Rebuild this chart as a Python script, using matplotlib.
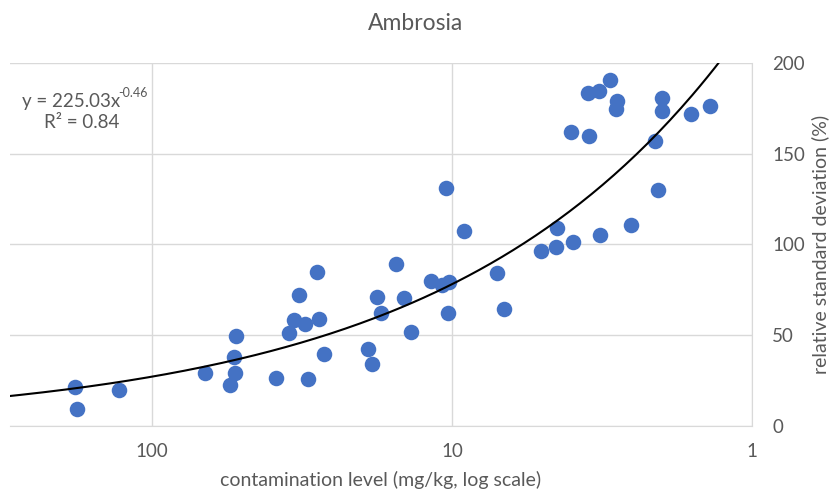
import numpy as np
import matplotlib
matplotlib.use('Agg')
import matplotlib.pyplot as plt

plt.rcParams['font.family'] = ['Lato', 'DejaVu Sans']

# contamination level (mg/kg) and relative standard deviation (%)
level = [181, 178.8, 129.1, 66.6, 55.1, 53.0, 53.3, 52.6, 38.6, 35.1,
         33.7, 32.5, 30.9, 30.3, 28.3, 27.8, 26.8, 19.05, 18.5, 17.8,
         17.2, 15.4, 14.45, 13.7, 11.8, 10.77, 10.23, 10.47, 10.31, 9.14,
         7.10, 6.74, 5.04, 4.51, 4.47, 3.94, 4.0, 3.49, 3.52, 3.25,
         2.97, 2.82, 2.84, 3.21, 2.54, 2.06, 2.10, 2.0, 1.99, 1.60, 1.38]
rsd = [21.6, 9.2, 19.7, 29.0, 22.5, 29.3, 37.6, 49.2, 26.2, 51.1,
       58.5, 71.9, 56.1, 25.7, 84.6, 58.8, 39.7, 42.3, 34.1, 70.8,
       62.2, 89.0, 70.5, 51.7, 80.0, 77.8, 79.3, 130.8, 62.3, 107.3,
       84.1, 64.2, 96.5, 98.5, 109.2, 101.2, 161.7, 159.5, 183.6, 184.4,
       190.5, 178.7, 174.4, 105.3, 110.5, 130.0, 156.9, 180.5, 173.3, 172.0, 176.3]

# power trendline shown on the chart
coef_a = 225.03
coef_b = -0.46

gray = '#595959'
fig = plt.figure(figsize=(8.31, 4.91), dpi=100)
ax = fig.add_axes([0.012, 0.133, 0.893, 0.739])

ax.scatter(level, rsd, s=125, color='#4472C4', zorder=3, linewidths=0)
xs = np.logspace(np.log10(1.0), np.log10(300), 200)
ax.plot(xs, coef_a * xs ** coef_b, color='black', lw=1.5, zorder=4)

ax.set_xscale('log')
ax.set_xlim(298, 1)
ax.set_ylim(0, 200)
ax.set_xticks([100, 10, 1])
ax.set_xticklabels(['100', '10', '1'])
ax.minorticks_off()
ax.set_yticks([0, 50, 100, 150, 200])
ax.yaxis.tick_right()
ax.yaxis.set_label_position('right')
ax.tick_params(length=0, labelsize=13.5, colors=gray, pad=12.5)
ax.tick_params(axis='y', pad=14.5)
ax.grid(True, color='#d9d9d9', lw=1)
ax.set_axisbelow(True)
for s in ['top', 'left']:
    ax.spines[s].set_visible(False)
for s in ['bottom', 'right']:
    ax.spines[s].set_color('#d9d9d9')

ax.set_xlabel('contamination level (mg/kg, log scale)', fontsize=14, color=gray)
ax.xaxis.set_label_coords(0.5, -0.125)
ax.set_ylabel('relative standard deviation (%)', fontsize=14, color=gray,
              va='center', ha='center')
ax.yaxis.set_label_coords(1.0916, 0.5)
fig.suptitle('Ambrosia', fontsize=16.5, color=gray, x=0.5, y=0.953, va='center')

# trendline equation, placed in figure fractions
fig.text(22 / 831, 1 - 101 / 491, 'y = 225.03x', fontsize=13.5, color=gray,
         ha='left', va='center')
fig.text(118 / 831, 1 - 93 / 491, '-0.46', fontsize=9, color=gray,
         ha='left', va='center')
fig.text(82 / 831, 1 - 122 / 491, 'R² = 0.84', fontsize=13.5, color=gray,
         ha='center', va='center')

plt.savefig('out.png', dpi=100)
